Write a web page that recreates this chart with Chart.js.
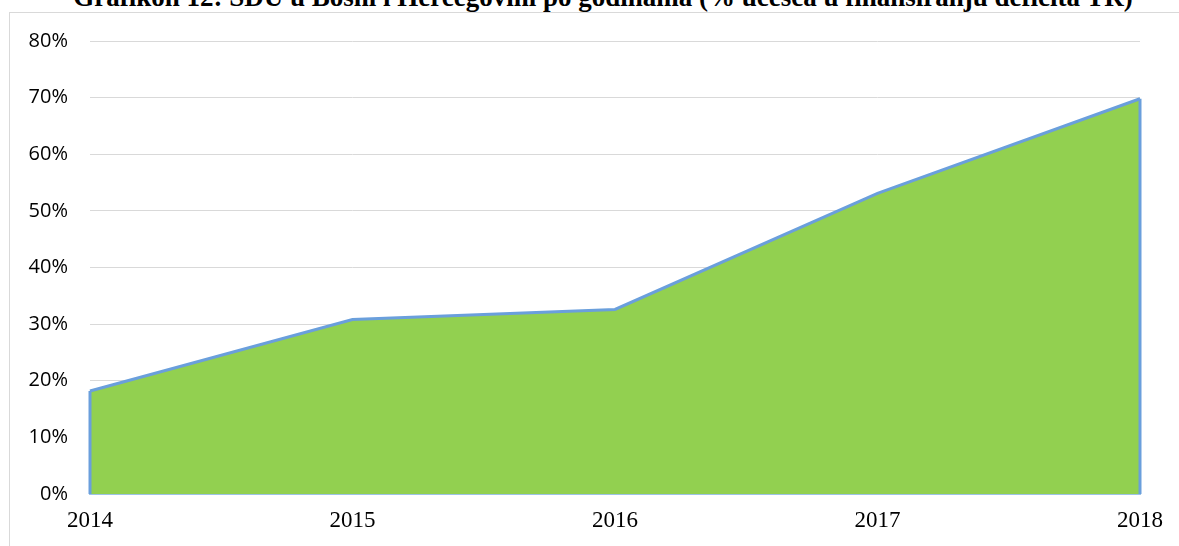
<!DOCTYPE html>
<html>
<head>
<meta charset="utf-8">
<script src="https://cdn.jsdelivr.net/npm/chart.js@4"></script>
<style>
  html, body { margin: 0; padding: 0; background: #fff; overflow: hidden; }
  #wrap { position: relative; width: 1179px; height: 546px; overflow: hidden; }
  #title {
    position: absolute; left: 603px; top: -14px; transform: translateX(-50%);
    font: bold 27px/22px "Liberation Serif", "Times New Roman", serif;
    white-space: nowrap; color: #000;
  }
  #frame {
    position: absolute; left: 9px; top: 12px; width: 1200px; height: 600px;
    border: 1px solid #d9d9d9; box-sizing: border-box;
  }
  #box { position: absolute; left: 0; top: 0; width: 1179px; height: 546px; }
</style>
</head>
<body>
<div id="wrap">
  <div id="title">Grafikon 12: SDU u Bosni i Hercegovini po godinama (% učešća u finansiranju deficita TR)</div>
  <div id="frame"></div>
  <div id="box"><canvas id="chart1"></canvas></div>
</div>
<script>
let years = ['2014', '2015', '2016', '2017', '2018'];
let shares = [18.2, 30.8, 32.6, 53.1, 69.8];
let yTicks = [0, 10, 20, 30, 40, 50, 60, 70, 80];

// outline the area down to the base on both ends, like the Excel area series
const edgePlugin = {
  id: 'edges',
  afterDatasetsDraw(chart) {
    const meta = chart.getDatasetMeta(0);
    const y0 = chart.scales.y.getPixelForValue(0);
    const ctx = chart.ctx;
    ctx.save();
    ctx.strokeStyle = '#6a9fdc';
    ctx.lineWidth = 3;
    [meta.data[0], meta.data[meta.data.length - 1]].forEach(p => {
      ctx.beginPath();
      ctx.moveTo(p.x, p.y);
      ctx.lineTo(p.x, y0);
      ctx.stroke();
    });
    ctx.restore();
  }
};

document.addEventListener('DOMContentLoaded', function () {
  const ctx = document.getElementById('chart1').getContext('2d');
  new Chart(ctx, {
    type: 'line',
    data: {
      labels: years,
      datasets: [{
        data: shares,
        borderColor: '#6a9fdc',
        borderWidth: 3,
        backgroundColor: '#92d050',
        fill: 'origin',
        pointRadius: 0,
        tension: 0
      }]
    },
    plugins: [edgePlugin],
    options: {
      responsive: true,
      maintainAspectRatio: false,
      animation: false,
      layout: { padding: { left: 10, right: 39, top: 41, bottom: 0 } },
      plugins: { legend: { display: false }, tooltip: { enabled: false } },
      scales: {
        x: {
          offset: false,
          afterFit: s => { s.height = 52; },
          grid: { display: false, drawTicks: false },
          border: { display: true, color: '#9dc3e6', width: 2 },
          ticks: {
            padding: 13,
            color: '#000',
            maxRotation: 0,
            font: { family: '"Liberation Serif", "Times New Roman", serif', size: 23 }
          }
        },
        y: {
          min: 0,
          max: 80,
          afterFit: s => { s.width = 80; },
          afterBuildTicks: s => { s.ticks = yTicks.map(v => ({ value: v })); },
          grid: { color: '#d9d9d9', lineWidth: 1, drawTicks: false },
          border: { display: false },
          ticks: {
            padding: 22,
            color: '#000',
            font: { family: '"Open Sans", "Liberation Sans", sans-serif', size: 20 },
            callback: v => v + '%'
          }
        }
      }
    }
  });
});
</script>
</body>
</html>
